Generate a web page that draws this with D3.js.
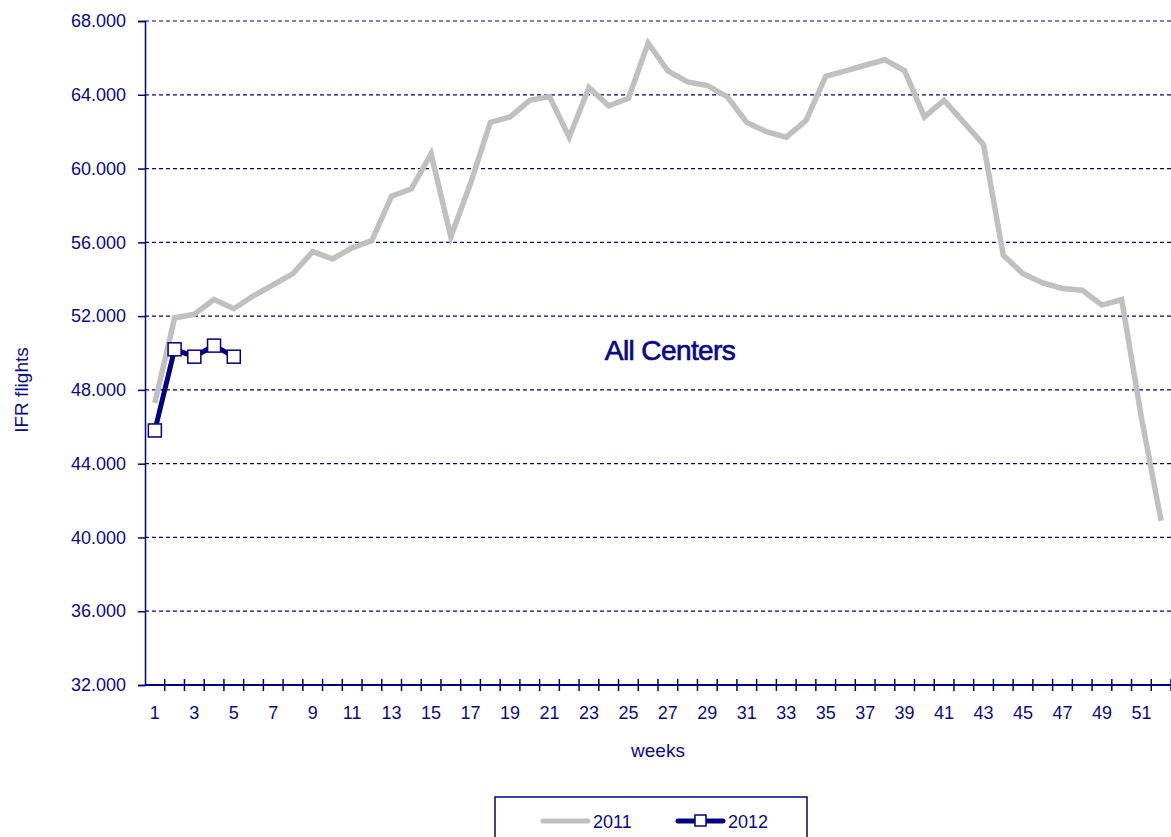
<!DOCTYPE html>
<html>
<head>
<meta charset="utf-8">
<script src="https://cdn.jsdelivr.net/npm/d3@7"></script>
<style>
  body { margin: 0; background: #fff; }
  text { font-family: "Liberation Sans", Arial, sans-serif; fill: #0a0a86; }
</style>
</head>
<body>
<div id="viz"></div>
<script>
// chart values
const weeks = d3.range(1, 53);
const flights2011 = [47300, 51900, 52100, 52900, 52400, 53100, 53700, 54300, 55500, 55100,
  55700, 56100, 58500, 58900, 60800, 56300, 59200, 62500, 62800, 63700,
  63900, 61700, 64400, 63400, 63800, 66800, 65300, 64700, 64500, 63900,
  62500, 62000, 61700, 62600, 65000, 65300, 65600, 65900, 65300, 62800,
  63700, 62500, 61300, 55300, 54300, 53800, 53500, 53400, 52600, 52900,
  46500, 40900];
const flights2012 = [45800, 50200, 49800, 50400, 49800];
const yTicks = [32000, 36000, 40000, 44000, 48000, 52000, 56000, 60000, 64000, 68000];
const seriesNames = ['2011', '2012'];

const SETTINGS = {
  width: 1171, height: 837,
  margin: { top: 21, right: 0, bottom: 152, left: 145 },
  navy: '#000080', grey: '#c0c0c0'
};

const svg = d3.select('#viz').append('svg')
  .attr('width', SETTINGS.width)
  .attr('height', SETTINGS.height);

const plotW = SETTINGS.width - SETTINGS.margin.left - SETTINGS.margin.right;
const plotH = SETTINGS.height - SETTINGS.margin.top - SETTINGS.margin.bottom;

let xScale = d3.scaleBand()
  .domain(weeks)
  .range([SETTINGS.margin.left, SETTINGS.margin.left + plotW]);

let yScale = d3.scaleLinear()
  .domain([32000, 68000])
  .range([SETTINGS.margin.top + plotH, SETTINGS.margin.top]);

const fmt = d => d3.format(',')(d).replace(/,/g, '.');
const cx = w => xScale(w) + xScale.bandwidth() / 2;

// gridlines
svg.append('g')
  .selectAll('line')
  .data(yTicks.slice(1))
  .enter()
  .append('line')
  .attr('x1', SETTINGS.margin.left)
  .attr('x2', SETTINGS.width)
  .attr('y1', d => yScale(d))
  .attr('y2', d => yScale(d))
  .attr('stroke', SETTINGS.navy)
  .attr('stroke-width', 1.2)
  .attr('stroke-dasharray', '4,3');

// y axis
let yAxis = svg.append('g')
  .attr('transform', `translate(${SETTINGS.margin.left},0)`)
  .call(d3.axisLeft(yScale).tickValues(yTicks).tickFormat(fmt).tickSize(7).tickPadding(12));
yAxis.selectAll('text').attr('font-size', 18).attr('fill', '#0a0a86');
yAxis.selectAll('line').attr('stroke', SETTINGS.navy).attr('stroke-width', 1.5);
yAxis.select('.domain').attr('stroke', SETTINGS.navy).attr('stroke-width', 1.5);

// x axis: cross ticks on category boundaries
const baseY = yScale(32000);
svg.append('line')
  .attr('x1', SETTINGS.margin.left).attr('x2', SETTINGS.width)
  .attr('y1', baseY).attr('y2', baseY)
  .attr('stroke', SETTINGS.navy).attr('stroke-width', 2);

svg.append('g')
  .selectAll('line')
  .data(weeks)
  .enter()
  .append('line')
  .attr('x1', d => xScale(d) + xScale.bandwidth())
  .attr('x2', d => xScale(d) + xScale.bandwidth())
  .attr('y1', baseY - 6)
  .attr('y2', baseY + 6)
  .attr('stroke', SETTINGS.navy)
  .attr('stroke-width', 1.5);

svg.append('g')
  .selectAll('text')
  .data(weeks.filter(d => d % 2 == 1))
  .enter()
  .append('text')
  .attr('x', d => cx(d))
  .attr('y', baseY + 34)
  .attr('text-anchor', 'middle')
  .attr('font-size', 18)
  .text(d => d);

// axis titles
svg.append('text')
  .attr('x', 658)
  .attr('y', 757)
  .attr('text-anchor', 'middle')
  .attr('font-size', 19)
  .text('weeks');

svg.append('text')
  .attr('transform', `translate(28,390) rotate(-90)`)
  .attr('text-anchor', 'middle')
  .attr('font-size', 19)
  .text('IFR flights');

svg.append('text')
  .attr('x', 670)
  .attr('y', 360)
  .attr('text-anchor', 'middle')
  .attr('font-size', 28)
  .attr('letter-spacing', -0.6)
  .attr('stroke', '#0a0a86')
  .attr('stroke-width', 0.7)
  .text('All Centers');

// lines
let line = d3.line()
  .x((d, i) => cx(weeks[i]))
  .y(d => yScale(d));

svg.append('path')
  .datum(flights2011)
  .attr('d', line)
  .attr('fill', 'none')
  .attr('stroke', SETTINGS.grey)
  .attr('stroke-width', 5.5);

svg.append('path')
  .datum(flights2012)
  .attr('d', line)
  .attr('fill', 'none')
  .attr('stroke', SETTINGS.navy)
  .attr('stroke-width', 5);

svg.selectAll('.mark')
  .data(flights2012)
  .enter()
  .append('rect')
  .attr('class', 'mark')
  .attr('x', (d, i) => cx(weeks[i]) - 6.5)
  .attr('y', d => yScale(d) - 6.5)
  .attr('width', 13)
  .attr('height', 13)
  .attr('fill', '#fff')
  .attr('stroke', SETTINGS.navy)
  .attr('stroke-width', 1.5);

// legend
let legend = svg.append('g');
legend.append('rect')
  .attr('x', 495).attr('y', 797)
  .attr('width', 312).attr('height', 60)
  .attr('fill', '#fff')
  .attr('stroke', SETTINGS.navy)
  .attr('stroke-width', 1.5);

legend.append('line')
  .attr('x1', 543).attr('x2', 588)
  .attr('y1', 821).attr('y2', 821)
  .attr('stroke', SETTINGS.grey).attr('stroke-width', 5)
  .attr('stroke-linecap', 'round');
legend.append('text')
  .attr('x', 593).attr('y', 828)
  .attr('font-size', 18)
  .text(seriesNames[0]);

legend.append('line')
  .attr('x1', 678).attr('x2', 723)
  .attr('y1', 821).attr('y2', 821)
  .attr('stroke', SETTINGS.navy).attr('stroke-width', 5)
  .attr('stroke-linecap', 'round');
legend.append('rect')
  .attr('x', 695).attr('y', 815)
  .attr('width', 11).attr('height', 11)
  .attr('fill', '#fff')
  .attr('stroke', SETTINGS.navy).attr('stroke-width', 1.5);
legend.append('text')
  .attr('x', 728).attr('y', 828)
  .attr('font-size', 18)
  .text(seriesNames[1]);
</script>
</body>
</html>
